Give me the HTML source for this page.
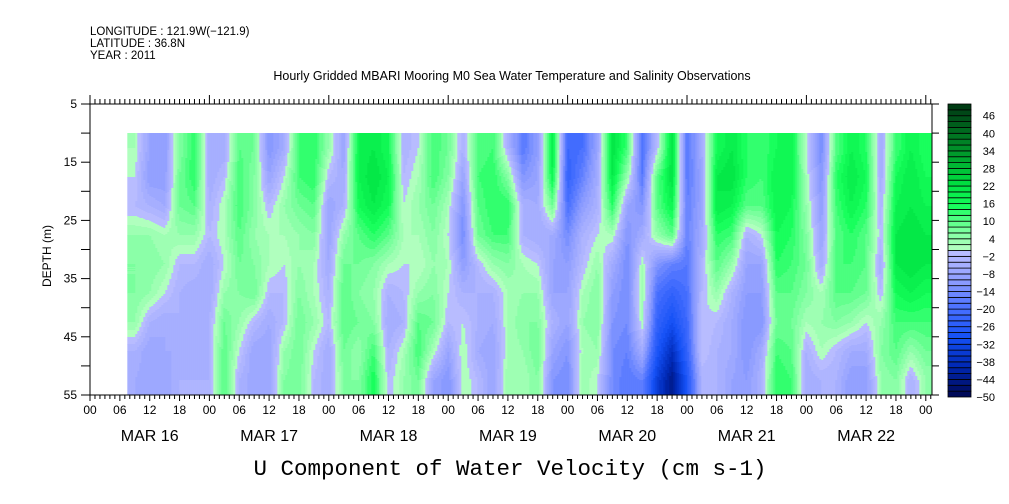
<!DOCTYPE html>
<html><head><meta charset="utf-8"><style>
html,body{margin:0;padding:0;background:#fff;}
svg{display:block;font-family:"Liberation Sans",sans-serif;}
</style></head><body>
<svg id="chart" width="1009" height="504" viewBox="0 0 1009 504" xmlns="http://www.w3.org/2000/svg">
<g font-size="11.5" fill="#000">
<text x="90" y="35">LONGITUDE : 121.9W(−121.9)</text>
<text x="90" y="47">LATITUDE : 36.8N</text>
<text x="90" y="59">YEAR : 2011</text>
</g>
<text x="512" y="80" font-size="12.5" text-anchor="middle">Hourly Gridded MBARI Mooring M0 Sea Water Temperature and Salinity Observations</text>
<g id="heat"></g>
<g id="axes" stroke="#000" stroke-width="1" fill="none"></g>
<g id="labels" font-size="12" fill="#000"></g>
<text transform="translate(51,256) rotate(-90)" font-size="12" text-anchor="middle">DEPTH (m)</text>
<text x="510" y="475" font-family="'Liberation Mono',monospace" font-size="22.5" text-anchor="middle">U Component of Water Velocity (cm s-1)</text>
<g id="cbar"></g>
</svg>
<script>
// Column centre times (hours since MAR 16 00:00)
const times = [9,12,15,18,21,24,27,30,33,36,39,42,45,48,51,54,57,60,63,66,69,72,75,78,81,84,87,90,93,96,99,102,105,108,111,114,117,120,123,126,129,132,135,138,141,144,147,150,153,156,159,162,165,168];
// Depth row centres (m)
const depths = [12.5,17.5,22.5,27.5,32.5,37.5,42.5,47.5,52.5];
// U velocity (cm/s): one array per time column, values by depth
const uValues = [
[2,0,-2,4,6,6,4,-4,-6],
[-8,-10,-4,4,6,4,-4,-8,-8],
[-10,-10,-6,2,4,0,-6,-6,-8],
[6,8,8,4,-2,-4,-4,-6,-4],
[14,14,10,4,-2,-6,-6,-6,-4],
[-6,-6,-4,-2,-6,-6,-4,-4,-4],
[-6,-2,2,2,0,4,8,10,10],
[10,12,12,10,8,6,4,0,-4],
[8,6,6,4,6,8,-2,-8,-8],
[-12,-8,-2,2,2,-2,-6,-8,-8],
[-6,0,4,2,0,-2,-2,4,6],
[12,12,8,4,4,6,8,8,8],
[14,14,10,6,2,2,4,0,-2],
[4,-2,-8,-8,-6,-4,-2,-6,-6],
[-8,-6,-4,4,8,10,10,8,6],
[18,18,16,10,8,6,8,4,6],
[20,22,20,14,6,4,6,12,16],
[16,18,16,10,2,-4,-6,-4,-2],
[-4,-2,0,2,0,-2,-4,2,4],
[0,2,4,2,0,4,10,12,8],
[12,12,8,6,4,6,8,2,-8],
[8,6,2,0,2,0,-2,-8,-12],
[-4,-8,-12,-14,-10,-4,0,2,2],
[10,12,10,8,-2,-4,-4,-6,-2],
[12,14,14,12,4,-4,-6,-8,-8],
[-4,6,14,12,6,2,2,2,4],
[-18,-12,-4,-4,2,4,6,4,2],
[-10,-8,-6,-6,0,4,6,8,6],
[20,18,8,-6,-8,-8,-4,-8,-12],
[-22,-24,-20,-14,-10,-8,-8,-12,-14],
[-20,-16,-10,-4,-2,2,4,2,4],
[-8,-6,-4,0,4,6,6,4,0],
[22,20,14,2,-6,-10,-12,-14,-14],
[12,4,-8,-12,-14,-14,-14,-16,-18],
[-20,-18,-12,-6,2,4,2,-6,-16],
[-2,10,10,4,-12,-20,-24,-28,-34],
[22,22,18,10,-16,-24,-30,-38,-44],
[-18,-18,-16,-16,-18,-20,-22,-24,-28],
[-6,-8,-8,-6,-4,-2,0,0,-4],
[16,20,20,14,10,4,-2,-4,-4],
[20,22,18,12,4,-4,-6,-6,-8],
[14,14,10,-4,-8,-10,-12,-12,-10],
[12,12,10,0,-8,-10,-12,-6,-4],
[16,18,18,16,14,10,8,12,14],
[18,18,16,14,12,10,8,10,12],
[0,2,4,6,8,6,2,-4,-6],
[-14,-12,-10,-8,-6,2,4,2,-4],
[10,14,12,10,12,10,6,-2,-4],
[18,20,18,14,12,10,4,-6,-10],
[14,16,14,10,10,8,0,-6,-10],
[-6,-6,-4,-2,-6,-2,4,6,4],
[12,16,18,20,20,16,12,10,6],
[18,20,20,22,22,18,12,4,-4],
[14,16,18,20,20,16,12,8,4]
];
const yTickLabels = [5,15,25,35,45,55];
const xTickLabels = ["00","06","12","18"];
const dayLabels = ["MAR 16","MAR 17","MAR 18","MAR 19","MAR 20","MAR 21","MAR 22"];
const cbarLabels = [46,40,34,28,22,16,10,4,-2,-8,-14,-20,-26,-32,-38,-44,-50];

const NS="http://www.w3.org/2000/svg";
const X0=90, PXH=119.4/24, Y0=104, PXM=5.82;
const xs = h => X0 + h*PXH;
const ys = d => Y0 + (d-5)*PXM;
const XEND = 932;
function mk(tag, attrs, parent){const e=document.createElementNS(NS,tag);for(const k in attrs)e.setAttribute(k,attrs[k]);parent.appendChild(e);return e;}

const negStops=[[0,[184,188,255]],[0.2,[140,156,255]],[0.4,[70,110,255]],[0.6,[20,80,245]],[0.8,[0,40,180]],[1,[0,10,90]]];
const posStops=[[0,[176,255,190]],[0.15,[110,255,150]],[0.3,[20,255,90]],[0.45,[0,225,65]],[0.65,[0,160,45]],[0.85,[0,100,30]],[1,[0,60,20]]];
function interp(stops,t){t=Math.max(0,Math.min(1,t));for(let i=1;i<stops.length;i++){if(t<=stops[i][0]){const a=stops[i-1],b=stops[i];const f=(t-a[0])/(b[0]-a[0]);return a[1].map((c,k)=>Math.round(c+(b[1][k]-c)*f));}}return stops[stops.length-1][1];}
function colorFor(v){let q=Math.floor(v/2)*2+1;q=Math.max(-49,Math.min(49,q));const c=q<0?interp(negStops,(-q-1)/48):interp(posStops,(q-1)/48);return "rgb("+c.join(",")+")";}

function sampleAt(h,d){
  let i=0; while(i<times.length-2 && h>times[i+1]) i++;
  let fx=(h-times[i])/(times[i+1]-times[i]); fx=Math.max(0,Math.min(1,fx));
  let j=0; while(j<depths.length-2 && d>depths[j+1]) j++;
  let fy=(d-depths[j])/(depths[j+1]-depths[j]); fy=Math.max(0,Math.min(1,fy));
  const a=uValues[i][j],b=uValues[i+1][j],c=uValues[i][j+1],e=uValues[i+1][j+1];
  return (a*(1-fx)+b*fx)*(1-fy)+(c*(1-fx)+e*fx)*fy;
}

// heatmap
const heat=document.getElementById('heat');
const hStart=times[0]-1.5, hEnd=times[times.length-1]+1.5;
const xStart=xs(hStart), xStop=Math.min(XEND,xs(hEnd));
const yTop=Math.round(ys(10)), yBot=Math.round(ys(55));
function flush(x,w,y0,y1,col){
  const r=mk('rect',{x:x.toFixed(2),y:y0,width:(w+0.3).toFixed(2),height:(y1-y0+0.3).toFixed(2),fill:col},heat);
  
  
}
for(let x=xStart;x<xStop;x+=2){
  const w=Math.min(2,xStop-x);
  const h=(x+w/2-X0)/PXH;
  let runStart=yTop, runCol=null;
  for(let y=yTop;y<yBot;y+=1){
    const d=5+(y+0.5-Y0)/PXM;
    const c=colorFor(sampleAt(h,d));
    if(c!==runCol){
      if(runCol!==null) flush(x,w,runStart,y,runCol);
      runStart=y; runCol=c;
    }
  }
  if(runCol!==null) flush(x,w,runStart,yBot,runCol);
}

// axes
const axes=document.getElementById('axes'), labels=document.getElementById('labels');
mk('line',{x1:X0,y1:Y0,x2:X0,y2:ys(55)},axes);
mk('line',{x1:X0,y1:ys(55),x2:XEND,y2:ys(55)},axes);
mk('line',{x1:X0,y1:Y0,x2:XEND,y2:Y0},axes);
mk('line',{x1:XEND,y1:Y0,x2:XEND,y2:ys(55)},axes);
for(let d=5; d<=55; d+=5){
  const y=ys(d);
  mk('line',{x1:X0-9,y1:y,x2:X0,y2:y},axes);
  mk('line',{x1:XEND,y1:y,x2:XEND+7,y2:y},axes);
}
yTickLabels.forEach(d=>{
  const t=mk('text',{x:X0-13,y:ys(d)+4,'text-anchor':'end'},labels);
  t.textContent=d;
  
  
});
for(let h=0; xs(h)<=XEND+0.5; h++){
  const x=xs(h), major=h%6===0;
  mk('line',{x1:x,y1:ys(55),x2:x,y2:ys(55)+(major?6:4)},axes);
  mk('line',{x1:x,y1:Y0,x2:x,y2:Y0-(h%24===0?9:5)},axes);
  if(major){
    const t=mk('text',{x:x,y:ys(55)+19,'text-anchor':'middle'},labels);
    t.textContent=xTickLabels[(h/6)%4];
    
    
  }
}
dayLabels.forEach((lab,i)=>{
  const t=mk('text',{x:xs(i*24+12),y:441,'text-anchor':'middle','font-size':'16'},labels);
  t.textContent=lab;
  
  
});

// colorbar
const cb=document.getElementById('cbar');
const CBX=948, CBW=23, CBT=104, CBB=397;
const cbY=v=>CBT+(50-v)/100*(CBB-CBT);
for(let v=-50; v<50; v+=2){
  const r=mk('rect',{x:CBX,y:cbY(v+2).toFixed(2),width:CBW,height:(cbY(v)-cbY(v+2)).toFixed(2),fill:colorFor(v+1),stroke:'#000','stroke-width':'0.8'},cb);
  
  
}
cbarLabels.forEach(v=>{
  const t=mk('text',{x:995,y:cbY(v)+4,'text-anchor':'end','font-size':'11'},cb);
  t.textContent=v<0?'−'+(-v):String(v);
  
  
});
</script>
</body></html>
